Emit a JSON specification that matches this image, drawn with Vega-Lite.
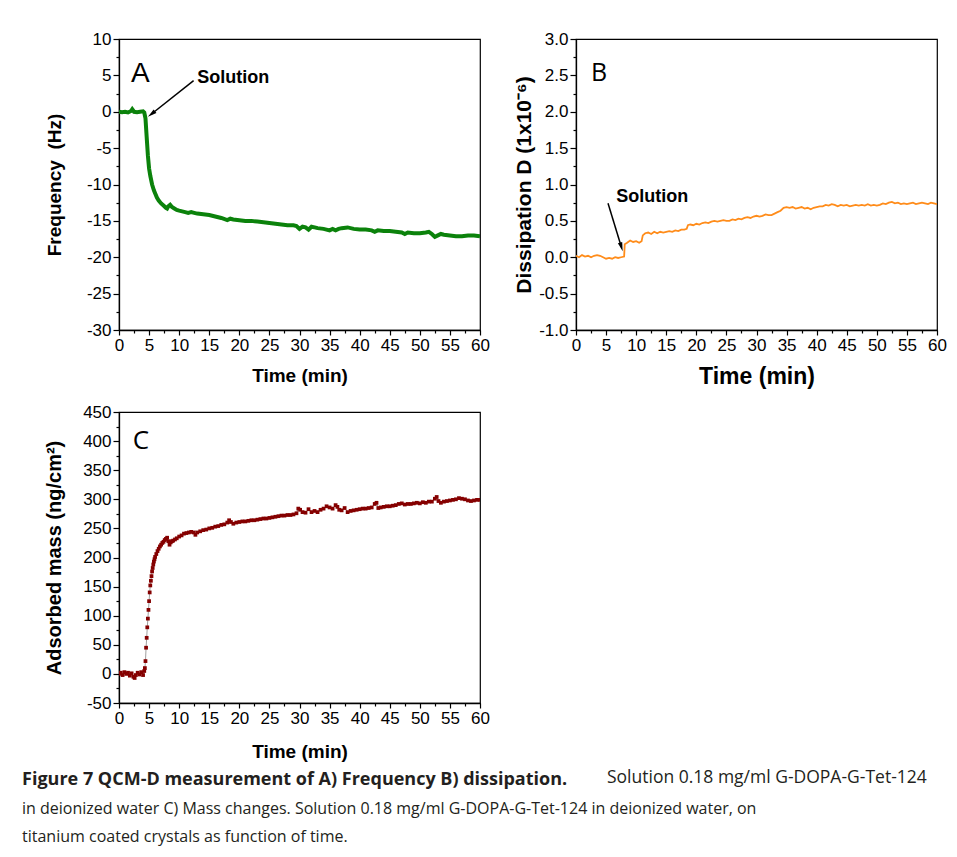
{
  "$schema": "https://vega.github.io/schema/vega-lite/v6.json",
  "padding": {"left": 22, "top": 29, "right": 5, "bottom": 5},
  "background": "white",
  "datasets": {
    "freq": [
      {"t":0,"v":0.0},{"t":0.5,"v":-0.05},{"t":1,"v":0.0},{"t":1.5,"v":-0.1},{"t":2,"v":0.1},{"t":2.2,"v":0.35},{"t":2.5,"v":0.0},{"t":3,"v":-0.05},{"t":3.5,"v":0.0},{"t":4,"v":0.05},{"t":4.2,"v":-0.1},{"t":4.4,"v":-0.9},{"t":4.6,"v":-3.5},{"t":4.8,"v":-6.0},{"t":5.0,"v":-7.8},{"t":5.2,"v":-8.8},{"t":5.5,"v":-10.0},{"t":5.8,"v":-10.8},{"t":6.0,"v":-11.2},{"t":6.3,"v":-11.8},{"t":6.6,"v":-12.2},{"t":7.0,"v":-12.6},{"t":7.4,"v":-12.9},{"t":7.8,"v":-13.2},{"t":8.0,"v":-13.3},{"t":8.2,"v":-13.0},{"t":8.5,"v":-12.8},{"t":8.8,"v":-13.1},{"t":9.2,"v":-13.3},{"t":9.6,"v":-13.5},{"t":10,"v":-13.6},{"t":10.5,"v":-13.7},{"t":11,"v":-13.8},{"t":11.5,"v":-13.9},{"t":12,"v":-13.8},{"t":12.5,"v":-13.9},{"t":13,"v":-14.0},{"t":14,"v":-14.1},{"t":15,"v":-14.2},{"t":16,"v":-14.4},{"t":17,"v":-14.6},{"t":18,"v":-14.9},{"t":18.5,"v":-14.7},{"t":19,"v":-14.8},{"t":20,"v":-14.9},{"t":21,"v":-15.0},{"t":22,"v":-15.0},{"t":23,"v":-15.1},{"t":24,"v":-15.2},{"t":25,"v":-15.3},{"t":26,"v":-15.4},{"t":27,"v":-15.5},{"t":28,"v":-15.6},{"t":29,"v":-15.6},{"t":29.5,"v":-15.7},{"t":30,"v":-16.1},{"t":30.5,"v":-15.8},{"t":31,"v":-15.9},{"t":31.5,"v":-16.2},{"t":32,"v":-15.8},{"t":32.5,"v":-15.9},{"t":33,"v":-16.0},{"t":34,"v":-16.1},{"t":35,"v":-16.3},{"t":35.5,"v":-16.1},{"t":36,"v":-16.3},{"t":36.5,"v":-16.1},{"t":37,"v":-16.0},{"t":38,"v":-15.9},{"t":39,"v":-16.1},{"t":40,"v":-16.2},{"t":41,"v":-16.2},{"t":42,"v":-16.3},{"t":42.5,"v":-16.5},{"t":43,"v":-16.3},{"t":44,"v":-16.4},{"t":45,"v":-16.4},{"t":46,"v":-16.5},{"t":47,"v":-16.6},{"t":47.5,"v":-16.8},{"t":48,"v":-16.6},{"t":49,"v":-16.7},{"t":50,"v":-16.7},{"t":51,"v":-16.6},{"t":51.5,"v":-16.5},{"t":52,"v":-16.8},{"t":52.5,"v":-17.2},{"t":53,"v":-17.0},{"t":53.5,"v":-16.8},{"t":54,"v":-16.9},{"t":55,"v":-17.0},{"t":56,"v":-17.1},{"t":57,"v":-17.1},{"t":58,"v":-17.0},{"t":59,"v":-17.0},{"t":60,"v":-17.1}
    ],
    "diss": [
      {"t":0,"v":0.02},{"t":0.5,"v":0.0},{"t":1,"v":0.03},{"t":1.5,"v":0.01},{"t":2,"v":0.02},{"t":2.5,"v":0.0},{"t":3,"v":0.02},{"t":3.5,"v":0.03},{"t":4,"v":0.02},{"t":4.5,"v":0.0},{"t":5,"v":-0.02},{"t":5.5,"v":-0.01},{"t":6,"v":-0.02},{"t":6.5,"v":0.0},{"t":7,"v":-0.01},{"t":7.5,"v":0.0},{"t":8.0,"v":0.01},{"t":8.1,"v":0.18},{"t":8.5,"v":0.2},{"t":9,"v":0.23},{"t":9.5,"v":0.21},{"t":10,"v":0.22},{"t":10.5,"v":0.2},{"t":10.9,"v":0.22},{"t":11.1,"v":0.3},{"t":11.5,"v":0.33},{"t":12,"v":0.34},{"t":12.5,"v":0.32},{"t":13,"v":0.35},{"t":13.5,"v":0.33},{"t":14,"v":0.35},{"t":14.5,"v":0.34},{"t":15,"v":0.35},{"t":15.5,"v":0.36},{"t":16,"v":0.35},{"t":16.5,"v":0.37},{"t":17,"v":0.36},{"t":17.5,"v":0.38},{"t":18,"v":0.38},{"t":18.4,"v":0.39},{"t":18.6,"v":0.44},{"t":19,"v":0.45},{"t":19.5,"v":0.44},{"t":20,"v":0.46},{"t":20.5,"v":0.45},{"t":21,"v":0.47},{"t":21.5,"v":0.48},{"t":22,"v":0.47},{"t":22.5,"v":0.49},{"t":23,"v":0.5},{"t":23.5,"v":0.49},{"t":24,"v":0.5},{"t":24.5,"v":0.51},{"t":25,"v":0.5},{"t":25.5,"v":0.5},{"t":26,"v":0.52},{"t":26.5,"v":0.51},{"t":27,"v":0.53},{"t":27.5,"v":0.52},{"t":28,"v":0.54},{"t":28.5,"v":0.55},{"t":29,"v":0.54},{"t":29.5,"v":0.56},{"t":30,"v":0.57},{"t":30.5,"v":0.56},{"t":31,"v":0.57},{"t":31.5,"v":0.59},{"t":32,"v":0.58},{"t":32.5,"v":0.58},{"t":33,"v":0.6},{"t":33.5,"v":0.62},{"t":34,"v":0.64},{"t":34.5,"v":0.68},{"t":35,"v":0.69},{"t":35.5,"v":0.68},{"t":36,"v":0.69},{"t":36.5,"v":0.67},{"t":37,"v":0.68},{"t":37.5,"v":0.69},{"t":38,"v":0.67},{"t":38.5,"v":0.68},{"t":39,"v":0.66},{"t":39.5,"v":0.68},{"t":40,"v":0.69},{"t":40.5,"v":0.7},{"t":41,"v":0.7},{"t":41.5,"v":0.72},{"t":42,"v":0.71},{"t":42.5,"v":0.73},{"t":43,"v":0.72},{"t":43.5,"v":0.7},{"t":44,"v":0.72},{"t":44.5,"v":0.71},{"t":45,"v":0.72},{"t":45.5,"v":0.7},{"t":46,"v":0.71},{"t":46.5,"v":0.72},{"t":47,"v":0.71},{"t":47.5,"v":0.72},{"t":48,"v":0.71},{"t":48.5,"v":0.73},{"t":49,"v":0.71},{"t":49.5,"v":0.72},{"t":50,"v":0.71},{"t":50.5,"v":0.72},{"t":51,"v":0.74},{"t":51.5,"v":0.73},{"t":52,"v":0.75},{"t":52.5,"v":0.76},{"t":53,"v":0.74},{"t":53.5,"v":0.75},{"t":54,"v":0.73},{"t":54.5,"v":0.74},{"t":55,"v":0.73},{"t":55.5,"v":0.74},{"t":56,"v":0.75},{"t":56.5,"v":0.73},{"t":57,"v":0.74},{"t":57.5,"v":0.75},{"t":58,"v":0.74},{"t":58.5,"v":0.73},{"t":59,"v":0.75},{"t":59.5,"v":0.74},{"t":60,"v":0.73}
    ],
    "mass": [
      {"t":0,"v":0},{"t":0.3,"v":2},{"t":0.6,"v":-2},{"t":0.9,"v":3},{"t":1.2,"v":0},{"t":1.5,"v":2},{"t":1.8,"v":-3},{"t":2.1,"v":1},{"t":2.4,"v":-5},{"t":2.6,"v":-7},{"t":2.8,"v":-2},{"t":3.1,"v":2},{"t":3.4,"v":-1},{"t":3.7,"v":3},{"t":4.0,"v":-2},{"t":4.2,"v":5},{"t":4.3,"v":10},{"t":4.4,"v":22},{"t":4.5,"v":45},{"t":4.6,"v":62},{"t":4.7,"v":80},{"t":4.8,"v":95},{"t":4.9,"v":110},{"t":5.0,"v":125},{"t":5.1,"v":140},{"t":5.2,"v":152},{"t":5.3,"v":160},{"t":5.4,"v":168},{"t":5.5,"v":176},{"t":5.6,"v":182},{"t":5.7,"v":188},{"t":5.8,"v":193},{"t":5.9,"v":197},{"t":6.0,"v":201},{"t":6.2,"v":206},{"t":6.4,"v":211},{"t":6.6,"v":215},{"t":6.8,"v":219},{"t":7.0,"v":222},{"t":7.2,"v":225},{"t":7.4,"v":227},{"t":7.6,"v":230},{"t":7.8,"v":232},{"t":8.0,"v":234},{"t":8.2,"v":228},{"t":8.4,"v":222},{"t":8.6,"v":226},{"t":8.8,"v":228},{"t":9.0,"v":229},{"t":9.3,"v":231},{"t":9.6,"v":233},{"t":10,"v":236},{"t":10.4,"v":238},{"t":10.8,"v":241},{"t":11.2,"v":242},{"t":11.6,"v":243},{"t":12.0,"v":244},{"t":12.4,"v":243},{"t":12.7,"v":239},{"t":13.0,"v":243},{"t":13.5,"v":245},{"t":14,"v":247},{"t":14.5,"v":248},{"t":15,"v":250},{"t":15.5,"v":251},{"t":16,"v":253},{"t":16.5,"v":254},{"t":17,"v":256},{"t":17.5,"v":257},{"t":18,"v":260},{"t":18.3,"v":264},{"t":18.6,"v":261},{"t":19,"v":258},{"t":19.5,"v":260},{"t":20,"v":261},{"t":20.5,"v":262},{"t":21,"v":262},{"t":21.5,"v":263},{"t":22,"v":264},{"t":22.5,"v":264},{"t":23,"v":265},{"t":23.5,"v":266},{"t":24,"v":267},{"t":24.5,"v":267},{"t":25,"v":268},{"t":25.5,"v":269},{"t":26,"v":270},{"t":26.5,"v":271},{"t":27,"v":272},{"t":27.5,"v":272},{"t":28,"v":273},{"t":28.5,"v":273},{"t":29,"v":274},{"t":29.5,"v":276},{"t":29.8,"v":284},{"t":30.1,"v":282},{"t":30.5,"v":278},{"t":31,"v":277},{"t":31.5,"v":283},{"t":32,"v":278},{"t":32.5,"v":280},{"t":33,"v":278},{"t":33.5,"v":282},{"t":34,"v":284},{"t":34.5,"v":288},{"t":35,"v":286},{"t":35.5,"v":284},{"t":36,"v":290},{"t":36.3,"v":287},{"t":36.6,"v":282},{"t":37,"v":281},{"t":37.5,"v":285},{"t":38,"v":278},{"t":38.5,"v":280},{"t":39,"v":281},{"t":39.5,"v":282},{"t":40,"v":283},{"t":40.5,"v":284},{"t":41,"v":284},{"t":41.5,"v":285},{"t":42,"v":286},{"t":42.5,"v":292},{"t":42.8,"v":294},{"t":43.1,"v":285},{"t":43.5,"v":286},{"t":44,"v":287},{"t":44.5,"v":288},{"t":45,"v":288},{"t":45.5,"v":289},{"t":46,"v":290},{"t":46.5,"v":292},{"t":47,"v":293},{"t":47.5,"v":291},{"t":48,"v":292},{"t":48.5,"v":292},{"t":49,"v":293},{"t":49.5,"v":294},{"t":50,"v":293},{"t":50.5,"v":295},{"t":51,"v":294},{"t":51.5,"v":296},{"t":52,"v":296},{"t":52.5,"v":301},{"t":52.8,"v":304},{"t":53.1,"v":297},{"t":53.5,"v":294},{"t":54,"v":296},{"t":54.5,"v":297},{"t":55,"v":298},{"t":55.5,"v":299},{"t":56,"v":300},{"t":56.5,"v":302},{"t":57,"v":301},{"t":57.5,"v":300},{"t":58,"v":298},{"t":58.5,"v":297},{"t":59,"v":298},{"t":59.5,"v":299},{"t":60,"v":299}
    ],
    "labA": [{"t":2.0,"v":4.1,"label":"A"}],
    "labB": [{"t":2.5,"v":2.42,"label":"B"}],
    "labC": [{"t":2.3,"v":387,"label":"C"}],
    "solA": [{"t":13.0,"v":3.9,"label":"Solution"}],
    "solB": [{"t":6.7,"v":0.765,"label":"Solution"}],
    "arrA": [{"t":12.4,"v":4.27,"t2":5.40,"v2":-0.31}],
    "headA": [{"t":5.40,"v":-0.31}],
    "arrB": [{"t":5.32,"v":0.742,"t2":7.54,"v2":0.142}],
    "headB": [{"t":7.54,"v":0.142}]
  },
  "title": {
    "text": "Figure 7 QCM-D measurement of A) Frequency B) dissipation.",
    "subtitle": ["in deionized water C) Mass changes. Solution 0.18 mg/ml G-DOPA-G-Tet-124 in deionized water, on", "titanium coated crystals as function of time."],
    "orient": "bottom", "anchor": "start", "dx": -22, "offset": -16,
    "font": "Open Sans", "fontSize": 18, "fontWeight": "bold", "color": "#231f20",
    "subtitleFont": "Open Sans", "subtitleFontSize": 16, "subtitleColor": "#231f20",
    "subtitlePadding": 12, "subtitleLineHeight": 28
  },
  "vconcat": [
    {
      "hconcat": [
        {
          "width": 361, "height": 291,
          "encoding": {
            "x": {"field": "t", "type": "quantitative", "scale": {"domain": [0, 60], "nice": false, "zero": false},
                  "axis": {"title": "Time (min)", "titlePadding": 13, "values": [0,2.5,5,7.5,10,12.5,15,17.5,20,22.5,25,27.5,30,32.5,35,37.5,40,42.5,45,47.5,50,52.5,55,57.5,60],
                           "labelExpr": "datum.value % 5 === 0 ? datum.label : ''",
                           "tickSize": {"condition": {"test": "datum.value % 5 === 0", "value": 5}, "value": 3}}},
            "y": {"field": "v", "type": "quantitative", "scale": {"domain": [-30, 10], "nice": false, "zero": false},
                  "axis": {"title": "Frequency\u00a0 (Hz)", "titlePadding": 22, "values": [-30,-27.5,-25,-22.5,-20,-17.5,-15,-12.5,-10,-7.5,-5,-2.5,0,2.5,5,7.5,10],
                           "labelExpr": "datum.value % 5 === 0 ? datum.label : ''",
                           "tickSize": {"condition": {"test": "datum.value % 5 === 0", "value": 6}, "value": 3}}}
          },
          "layer": [
            {"data": {"name": "freq"}, "mark": {"type": "line", "color": "#0b820b", "strokeWidth": 4, "clip": true}},
            {"data": {"name": "labA"}, "mark": {"type": "text", "font": "Liberation Sans", "fontSize": 28, "align": "left", "baseline": "alphabetic", "color": "black"},
             "encoding": {"text": {"field": "label"}}},
            {"data": {"name": "solA"}, "mark": {"type": "text", "font": "Liberation Sans", "fontSize": 18, "fontWeight": "bold", "align": "left", "baseline": "alphabetic", "color": "black"},
             "encoding": {"text": {"field": "label"}}},
            {"data": {"name": "arrA"}, "mark": {"type": "rule", "color": "black", "strokeWidth": 1.5},
             "encoding": {"x2": {"field": "t2"}, "y2": {"field": "v2"}}},
            {"data": {"name": "headA"}, "mark": {"type": "point", "shape": "M0,-1L-0.5,1L0.5,1Z", "size": 81, "angle": 232, "filled": true, "color": "black", "opacity": 1}}
          ]
        },
        {
          "width": 361, "height": 291,
          "encoding": {
            "x": {"field": "t", "type": "quantitative", "scale": {"domain": [0, 60], "nice": false, "zero": false},
                  "axis": {"title": "Time (min)", "titleFontSize": 23, "titlePadding": 12, "values": [0,2.5,5,7.5,10,12.5,15,17.5,20,22.5,25,27.5,30,32.5,35,37.5,40,42.5,45,47.5,50,52.5,55,57.5,60],
                           "labelExpr": "datum.value % 5 === 0 ? datum.label : ''",
                           "tickSize": {"condition": {"test": "datum.value % 5 === 0", "value": 5}, "value": 3}}},
            "y": {"field": "v", "type": "quantitative", "scale": {"domain": [-1, 3], "nice": false, "zero": false},
                  "axis": {"title": "Dissipation D (1x10⁻⁶)", "titleFontSize": 21, "titlePadding": 4, "format": ".1f", "values": [-1,-0.75,-0.5,-0.25,0,0.25,0.5,0.75,1,1.25,1.5,1.75,2,2.25,2.5,2.75,3],
                           "labelExpr": "abs(datum.value*2 - round(datum.value*2)) < 0.001 ? datum.label : ''",
                           "tickSize": {"condition": {"test": "abs(datum.value*2 - round(datum.value*2)) < 0.001", "value": 6}, "value": 3}}}
          },
          "layer": [
            {"data": {"name": "diss"}, "mark": {"type": "line", "color": "#ff8c1a", "strokeWidth": 1.8, "clip": true}},
            {"data": {"name": "labB"}, "mark": {"type": "text", "font": "Open Sans", "fontSize": 25, "align": "left", "baseline": "alphabetic", "color": "black"},
             "encoding": {"text": {"field": "label"}}},
            {"data": {"name": "solB"}, "mark": {"type": "text", "font": "Liberation Sans", "fontSize": 18, "fontWeight": "bold", "align": "left", "baseline": "alphabetic", "color": "black"},
             "encoding": {"text": {"field": "label"}}},
            {"data": {"name": "arrB"}, "mark": {"type": "rule", "color": "black", "strokeWidth": 1.5},
             "encoding": {"x2": {"field": "t2"}, "y2": {"field": "v2"}}},
            {"data": {"name": "headB"}, "mark": {"type": "point", "shape": "M0,-1L-0.5,1L0.5,1Z", "size": 81, "angle": 163, "filled": true, "color": "black", "opacity": 1}}
          ]
        }
      ],
      "spacing": 22
    },
    {
      "width": 361, "height": 291,
      "title": {"text": "Solution 0.18 mg/ml G-DOPA-G-Tet-124", "orient": "bottom", "anchor": "start", "frame": "group", "dx": 488, "offset": 8,
                "font": "Open Sans", "fontSize": 17.5, "fontWeight": "normal", "color": "#231f20"},
      "encoding": {
        "x": {"field": "t", "type": "quantitative", "scale": {"domain": [0, 60], "nice": false, "zero": false},
              "axis": {"title": "Time (min)", "titlePadding": 16, "values": [0,2.5,5,7.5,10,12.5,15,17.5,20,22.5,25,27.5,30,32.5,35,37.5,40,42.5,45,47.5,50,52.5,55,57.5,60],
                       "labelExpr": "datum.value % 5 === 0 ? datum.label : ''",
                       "tickSize": {"condition": {"test": "datum.value % 5 === 0", "value": 5}, "value": 3}}},
        "y": {"field": "v", "type": "quantitative", "scale": {"domain": [-50, 450], "nice": false, "zero": false},
              "axis": {"title": "Adsorbed mass (ng/cm²)", "titleFontSize": 20, "titlePadding": 18, "values": [-50,-25,0,25,50,75,100,125,150,175,200,225,250,275,300,325,350,375,400,425,450],
                       "labelExpr": "datum.value % 50 === 0 ? datum.label : ''",
                       "tickSize": {"condition": {"test": "datum.value % 50 === 0", "value": 6}, "value": 3}}}
      },
      "layer": [
        {"data": {"name": "mass"}, "mark": {"type": "line", "color": "#a0a0a0", "strokeWidth": 1, "clip": true}},
        {"data": {"name": "mass"}, "mark": {"type": "point", "shape": "square", "size": 14, "filled": true, "color": "#850000", "opacity": 1, "clip": true}},
        {"data": {"name": "labC"}, "mark": {"type": "text", "font": "Open Sans", "fontSize": 26, "align": "left", "baseline": "alphabetic", "color": "black"},
         "encoding": {"text": {"field": "label"}}}
      ]
    }
  ],
  "spacing": 13,
  "config": {
    "view": {"stroke": "black", "strokeWidth": 1.2},
    "locale": {"number": {"decimal": ".", "thousands": ",", "grouping": [3], "currency": ["$", ""], "minus": "-"}},
    "axis": {"grid": false, "domainColor": "black", "domainWidth": 1.3, "tickColor": "black", "tickWidth": 1.2,
             "labelFont": "Liberation Sans", "labelFontSize": 17, "labelColor": "black", "labelPadding": 2,
             "titleFont": "Liberation Sans", "titleFontSize": 19, "titleFontWeight": "bold", "titleColor": "black",
             "labelFlush": false, "labelOverlap": false, "labelBound": false}
  }
}
